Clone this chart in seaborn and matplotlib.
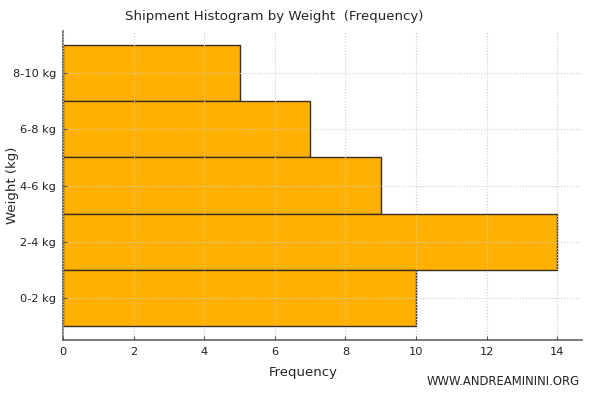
import matplotlib
matplotlib.use("Agg")
import matplotlib.pyplot as plt
import seaborn as sns
import pandas as pd

categories = ["0-2 kg", "2-4 kg", "4-6 kg", "6-8 kg", "8-10 kg"]
frequencies = [10, 14, 9, 7, 5]

sns.set_style("white")
plt.rcParams['font.family'] = ['DejaVu Sans']

df = pd.DataFrame({"Weight": categories, "Frequency": frequencies})

fig = plt.figure(figsize=(6, 3.97), dpi=100)
ax = fig.add_axes([0.105, 0.1436, 0.865, 0.778])

sns.barplot(data=df, y="Weight", x="Frequency", order=categories[::-1], orient="h",
            color="#FFB000", saturation=1, width=1.0, edgecolor="#3a3020", linewidth=1, ax=ax)
ax.set_ylim(4.75, -0.75)
ax.set_xlim(0, 14.7)
ax.set_xticks(range(0, 15, 2))

ax.grid(True, linestyle=":", color="#cccccc", linewidth=0.8)
ax.set_axisbelow(False)
for s in ["top", "right"]:
    ax.spines[s].set_visible(False)
for s in ["left", "bottom"]:
    ax.spines[s].set_color("#666666")
    ax.spines[s].set_linewidth(1.2)
ax.tick_params(axis="both", labelsize=8.2, length=3, direction="in", pad=5,
               color="#555555", colors="#222222", left=True, bottom=True)

ax.set_xlabel("Frequency", fontsize=9.5)
ax.xaxis.set_label_coords(0.462, -0.085)
ax.set_ylabel("Weight (kg)", fontsize=9.5)
ax.yaxis.set_label_coords(-0.085, 0.5)
ax.set_title("Shipment Histogram by Weight  (Frequency)", fontsize=9.6, x=0.407, pad=8)

fig.text(0.967, 0.04, "WWW.ANDREAMININI.ORG", ha="right", va="center", fontsize=8.4, color="#222222")

fig.savefig("out.png", dpi=100)
